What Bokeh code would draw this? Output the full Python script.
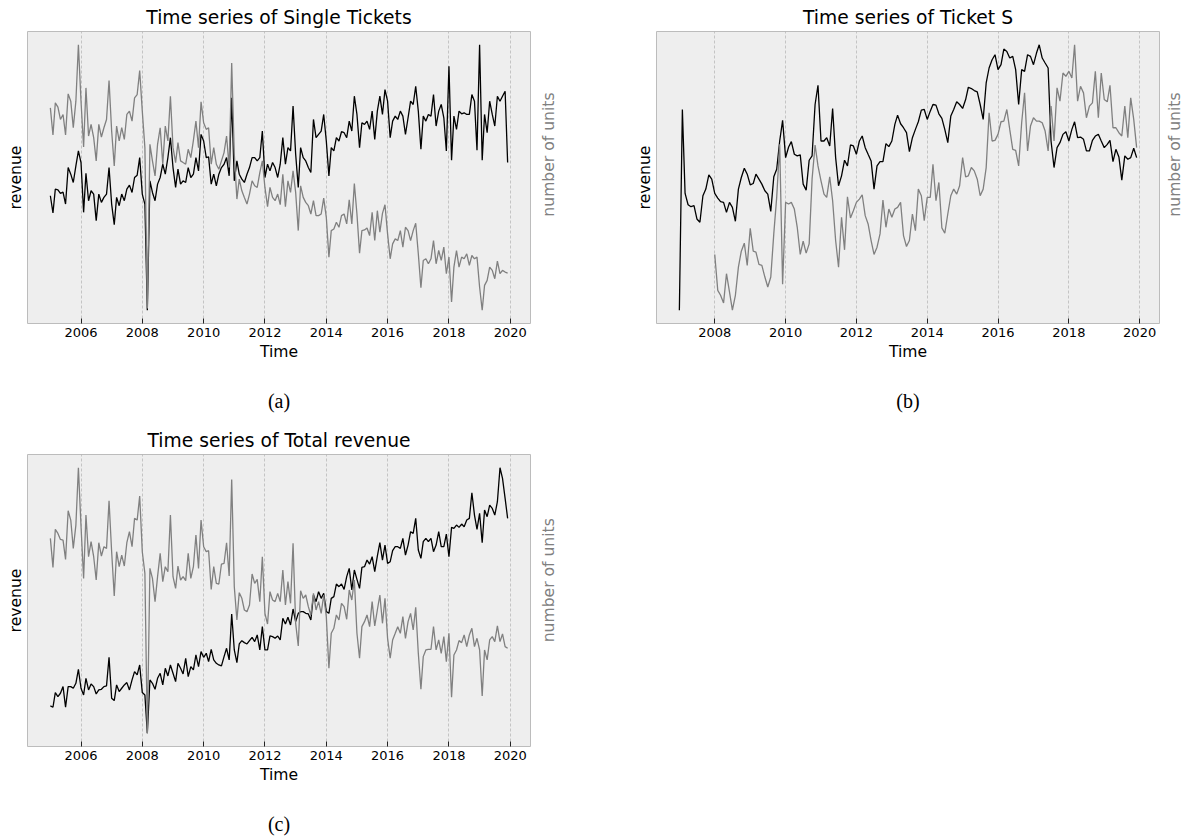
import math
import pandas as pd
from bokeh.plotting import figure
from bokeh.models import Range1d, LinearAxis, FixedTicker, DatetimeTickFormatter
from bokeh.core.properties import value
from bokeh.layouts import row, column
from bokeh.embed import file_html
from bokeh.resources import INLINE

# ---------------- data (monthly, arbitrary units) ----------------
single_revenue = [
    415, 363, 435, 433, 422, 426, 390, 500, 480, 455, 505, 550,
    515, 365, 483, 400, 430, 420, 340, 420, 395, 410, 420, 500,
    390, 328, 410, 385, 420, 400, 435, 447, 425, 470, 477, 530,
    420, 390, 70, 460, 425, 400, 450, 470, 510, 480, 530, 590,
    500, 440, 495, 450, 460, 455, 500, 470, 480, 530, 490, 600,
    580, 530, 532, 450, 480, 445, 480, 500, 510, 530, 475, 710,
    460, 520, 480, 465, 455, 480, 500, 530, 530, 520, 530, 610,
    470, 510, 490, 515, 500, 470, 510, 590, 510, 560, 550, 685,
    540, 440, 560, 530, 520, 500, 485, 645, 590, 600, 610, 660,
    580, 475, 560, 550, 590, 580, 608, 605, 590, 640, 610, 715,
    660, 560, 635, 630, 640, 615, 670, 585, 670, 715, 660, 735,
    700, 590, 640, 655, 645, 670, 655, 600, 650, 700, 690, 745,
    670, 555, 655, 640, 660, 655, 720, 625, 670, 690, 650, 550,
    805, 522, 655, 615, 670, 662, 665, 660, 660, 720, 700, 552,
    870, 522, 660, 605, 700, 660, 625, 715, 700, 715, 730, 515,
]
single_units = [
    680, 598, 695, 682, 645, 660, 598, 722, 700, 620, 700, 870,
    700, 562, 740, 595, 630, 590, 520, 630, 592, 620, 645, 762,
    610, 505, 625, 580, 620, 585, 660, 670, 640, 710, 720, 792,
    670, 560, 75, 570, 520, 475, 570, 620, 510, 625, 580, 715,
    560, 515, 575, 520, 515, 510, 555, 530, 582, 640, 560, 698,
    635, 615, 620, 510, 560, 510, 495, 520, 545, 595, 500, 815,
    540, 405, 465, 430, 410, 390, 420, 460, 445, 440, 485, 520,
    440, 382, 440, 410, 400, 420, 388, 480, 382, 460, 425, 490,
    425, 310, 445, 410, 395, 385, 360, 400, 355, 355, 360, 408,
    350, 230, 310, 315, 335, 320, 355, 360, 330, 403, 330, 452,
    360, 242, 310, 312, 318, 295, 365, 280, 370, 305, 362, 388,
    300, 225, 270, 285, 280, 310, 260, 320, 310, 280, 310, 332,
    240, 138, 220, 225, 210, 225, 280, 210, 250, 220, 260, 180,
    230, 95, 200, 250, 200, 230, 225, 240, 205, 235, 225, 230,
    140, 70, 145, 160, 200, 190, 165, 218, 180, 190, 185, 182,
]
tickets_revenue = [
    70, 675, 422, 388, 382, 385, 345, 335, 415, 435, 478, 465,
    422, 408, 397, 395, 365, 395, 380, 338, 435, 470, 498, 480,
    448, 452, 480, 465, 450, 430, 420, 368, 472, 495, 580, 642,
    530, 562, 578, 540, 535, 538, 450, 432, 522, 535, 690, 748,
    580, 580, 590, 565, 678, 530, 445, 475, 522, 505, 568, 565,
    540, 580, 595, 560, 540, 520, 435, 505, 518, 518, 572, 563,
    580, 630, 658, 632, 620, 605, 548, 590, 615, 638, 673, 675,
    645, 670, 690, 688, 662, 648, 615, 575, 655, 675, 698, 690,
    678, 705, 742, 738, 732, 728, 690, 645, 755, 800, 825, 840,
    795, 810, 857, 850, 830, 835, 795, 690, 795, 790, 840, 835,
    810, 845, 870, 830, 815, 800, 580, 500, 560, 575, 600, 608,
    580, 615, 638, 590, 592, 585, 550, 550, 582, 595, 600, 580,
    560, 570, 582, 518, 555, 532, 462, 535, 525, 530, 558, 530,
]
tickets_units = [
    238, 130, 115, 92, 180, 125, 70, 115, 200, 248, 272, 205,
    317, 248, 245, 208, 205, 170, 140, 170, 300, 410, 570, 148,
    395, 390, 395, 375, 320, 238, 278, 242, 270, 465, 568, 505,
    460, 420, 410, 472, 400, 280, 200, 350, 252, 412, 348, 370,
    395, 405, 418, 355, 330, 280, 238, 260, 300, 402, 320, 375,
    350, 375, 380, 395, 295, 262, 280, 360, 310, 435, 415, 340,
    410, 410, 510, 400, 455, 318, 302, 360, 415, 435, 420, 445,
    530, 472, 475, 500, 490, 465, 415, 435, 500, 665, 580, 582,
    600, 638, 640, 675, 615, 555, 552, 505, 635, 725, 550, 625,
    650, 640, 640, 635, 610, 550, 685, 580, 740, 700, 785, 775,
    790, 770, 870, 700, 745, 725, 650, 685, 695, 790, 650, 785,
    705, 698, 748, 620, 620, 605, 595, 685, 590, 710, 645, 560,
]
total_revenue = [
    142, 138, 182, 170, 180, 200, 138, 200, 200, 195, 210, 252,
    195, 175, 225, 190, 208, 200, 178, 190, 192, 200, 202, 288,
    165, 158, 205, 185, 195, 205, 212, 190, 220, 245, 235, 265,
    182, 175, 60, 220, 210, 192, 225, 240, 205, 255, 232, 265,
    240, 215, 270, 255, 238, 285, 230, 260, 250, 295, 260, 305,
    288, 300, 275, 312, 280, 270, 265, 262, 290, 315, 280, 418,
    310, 272, 328, 338, 332, 328, 338, 348, 335, 355, 310, 380,
    310, 310, 352, 350, 345, 352, 340, 405, 388, 408, 385, 433,
    395, 420, 425, 425, 420, 418, 400, 475, 455, 485, 465, 480,
    425, 420, 465, 470, 508, 500, 508, 492, 530, 555, 490, 550,
    522, 495, 558, 560, 580, 568, 590, 545, 592, 632, 580, 625,
    570, 575, 608, 620, 620, 615, 645, 595, 625, 665, 660, 705,
    610, 585, 635, 645, 635, 645, 605, 625, 665, 620, 620, 658,
    590, 678, 675, 685, 678, 688, 680, 700, 705, 782, 715, 672,
    720, 632, 730, 710, 745, 735, 715, 755, 857, 825, 765, 705,
]
total_units = [
    645, 558, 672, 660, 642, 640, 582, 728, 700, 615, 685, 857,
    682, 525, 715, 590, 635, 590, 520, 632, 592, 620, 615, 758,
    605, 472, 605, 560, 595, 562, 632, 665, 620, 705, 700, 772,
    605, 540, 60, 555, 525, 455, 530, 600, 515, 560, 545, 715,
    530, 495, 562, 520, 530, 518, 600, 525, 560, 655, 555, 700,
    620, 605, 608, 492, 560, 510, 508, 568, 570, 632, 532, 822,
    500, 400, 482, 465, 430, 425, 445, 538, 510, 522, 455, 590,
    420, 388, 485, 460, 455, 480, 455, 550, 445, 515, 450, 630,
    390, 322, 488, 465, 475, 440, 415, 480, 430, 455, 420, 475,
    410, 255, 360, 375, 415, 400, 450, 440, 402, 490, 460, 520,
    360, 285, 380, 395, 415, 380, 455, 382, 430, 475, 390, 465,
    345, 285, 340, 360, 380, 360, 410, 345, 395, 420, 370, 438,
    300, 192, 290, 310, 312, 312, 380, 310, 340, 300, 350, 275,
    360, 168, 295, 310, 338, 332, 355, 320, 355, 375, 320, 345,
    310, 172, 310, 280, 340, 350, 335, 382, 335, 358, 320, 315,
]

single_start = "2005-01-01"
tickets_revenue_start = "2007-01-01"
tickets_units_start = "2008-01-01"
total_start = "2005-01-01"
tick_years = [2006, 2008, 2010, 2012, 2014, 2016, 2018, 2020]

titles = ["Time series of Single Tickets", "Time series of Ticket S", "Time series of Total revenue"]
captions = ["(a)", "(b)", "(c)"]
x_label = "Time"
left_label = "revenue"
right_label = "number of units"

SANS = "DejaVu Sans"
SERIF = "Liberation Serif"
LABEL_SIZE = "15.6px"


def months(start, n):
    idx = pd.date_range(start, periods=n, freq="MS")
    return [int(v) for v in (idx.asi8 // 10**6)]


def padded(vals):
    lo, hi = min(vals), max(vals)
    d = (hi - lo) * 0.05
    return Range1d(lo - d, hi + d)


tick_ms = [int(pd.Timestamp(f"{y}-01-01").value // 10**6) for y in tick_years]


def panel(title, caption, xr, rev, xu, units, width, height, left, right, top, bottom):
    x0 = min(xr[0], xu[0])
    x1 = max(xr[-1], xu[-1])
    span = x1 - x0
    p = figure(width=width, height=height, x_axis_type="datetime",
               x_range=Range1d(x0 - 0.05 * span, x1 + 0.05 * span),
               y_range=padded(rev), output_backend="svg", toolbar_location=None,
               min_border_left=left, min_border_right=right,
               min_border_top=top, min_border_bottom=bottom)
    p.extra_y_ranges = {"units": padded(units)}
    p.background_fill_color = "#eeeeee"
    p.border_fill_color = "white"
    p.outline_line_color = "#bcbcbc"
    p.outline_line_width = 1

    p.title.text = title
    p.title.align = "center"
    p.title.text_font = SANS
    p.title.text_font_size = "18.7px"
    p.title.text_font_style = "normal"
    p.title.text_color = "black"
    p.title.standoff = 7

    xa = p.xaxis[0]
    xa.ticker = FixedTicker(ticks=tick_ms)
    xa.formatter = DatetimeTickFormatter(years="%Y", months="%Y", days="%Y", hours="%Y")
    xa.axis_label = x_label
    xa.axis_label_text_font = SANS
    xa.axis_label_text_font_size = LABEL_SIZE
    xa.axis_label_text_font_style = "normal"
    xa.axis_label_text_color = "black"
    xa.axis_label_standoff = 3
    xa.major_label_text_font = SANS
    xa.major_label_text_font_size = "13px"
    xa.major_label_text_color = "black"
    xa.major_label_standoff = 4
    xa.major_tick_in = 5
    xa.major_tick_out = 0
    xa.major_tick_line_color = "#222222"
    xa.minor_tick_line_color = None
    xa.axis_line_color = None

    ya = p.yaxis[0]
    ya.ticker = FixedTicker(ticks=[])
    ya.axis_label = left_label
    ya.axis_label_text_font = SANS
    ya.axis_label_text_font_size = LABEL_SIZE
    ya.axis_label_text_font_style = "normal"
    ya.axis_label_text_color = "black"
    ya.axis_label_standoff = 3
    ya.major_label_standoff = 0
    ya.major_tick_out = 0
    ya.major_tick_in = 0
    ya.minor_tick_line_color = None
    ya.axis_line_color = None

    cap = LinearAxis(ticker=FixedTicker(ticks=[]), axis_label=caption,
                     axis_label_text_font=SERIF, axis_label_text_font_size="20px",
                     axis_label_text_font_style="normal", axis_label_text_color="black",
                     axis_label_standoff=26, major_label_standoff=0,
                     major_tick_out=0, major_tick_in=0, minor_tick_line_color=None,
                     axis_line_color=None)
    p.add_layout(cap, "below")

    p.xgrid.grid_line_color = "#b2b2b2"
    p.xgrid.grid_line_dash = "3 2"
    p.xgrid.grid_line_width = 0.7
    p.ygrid.visible = False

    p.line(xr, rev, line_color="black", line_width=1.3)
    p.line(xu, units, line_color="gray", line_width=1.3, y_range_name="units")
    return p


def side_label(width, height, x_px, center_from_top, text, color):
    p = figure(width=width, height=height, x_range=Range1d(0, width), y_range=Range1d(0, height),
               output_backend="svg", toolbar_location=None,
               x_axis_location=None, y_axis_location=None,
               min_border_left=0, min_border_right=0, min_border_top=0, min_border_bottom=0)
    p.grid.visible = False
    p.outline_line_color = None
    p.background_fill_color = "white"
    p.border_fill_color = "white"
    p.text(x=[x_px], y=[height - center_from_top], text=[text], angle=math.pi / 2,
           text_align="center", text_baseline="alphabetic", text_font=value(SANS),
           text_font_size=value(LABEL_SIZE), text_color=color)
    return p


H1 = 420
H2 = 418
pa = panel(titles[0], captions[0], months(single_start, len(single_revenue)), single_revenue,
           months(single_start, len(single_units)), single_units,
           534, H1, 27, 4, 31, 97)
ra = side_label(56, H1, 14.3, 177, right_label, "gray")
pb = panel(titles[1], captions[1], months(tickets_revenue_start, len(tickets_revenue)), tickets_revenue,
           months(tickets_units_start, len(tickets_units)), tickets_units,
           570, H1, 66, 1, 31, 97)
rb = side_label(22, H1, 14.5, 177, right_label, "gray")
pc = panel(titles[2], captions[2], months(total_start, len(total_revenue)), total_revenue,
           months(total_start, len(total_units)), total_units,
           534, H2, 27, 4, 34, 92)
rc = side_label(56, H2, 14.3, 180, right_label, "gray")

layout = column(row(pa, ra, pb, rb), row(pc, rc))
open("out.html", "w").write(file_html(layout, INLINE))
